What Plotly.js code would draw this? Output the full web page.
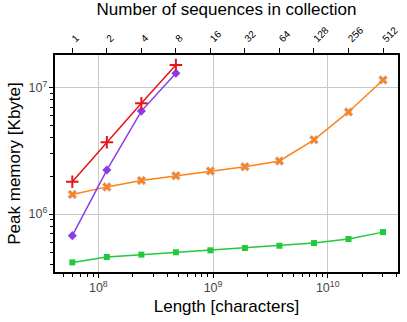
<!DOCTYPE html>
<html>
<head>
<meta charset="utf-8">
<script src="https://cdn.plot.ly/plotly-3.0.1.min.js"></script>
<style>
  body { margin: 0; background: #fff; }
  #chart { width: 407px; height: 322px; }
</style>
</head>
<body>
<div id="chart"></div>
<script>
// length of one sequence (characters); collections hold 1..512 of them
var baseLength = 5.93e7;
var seqCounts = [1, 2, 4, 8, 16, 32, 64, 128, 256, 512];

// peak memory in Kbyte
var redMem = [1.80e6, 3.70e6, 7.52e6, 1.51e7];
var purpleMem = [6.74e5, 2.23e6, 6.53e6, 1.30e7];
var orangeMem = [1.43e6, 1.64e6, 1.84e6, 2.01e6, 2.19e6, 2.37e6, 2.63e6, 3.87e6, 6.43e6, 1.15e7];
var greenMem = [4.14e5, 4.57e5, 4.77e5, 4.98e5, 5.16e5, 5.38e5, 5.61e5, 5.89e5, 6.34e5, 7.19e5];

var lengths = seqCounts.map(function (n) { return n * baseLength; });
var xRange = [7.622, 10.613];
var yRange = [5.541, 7.259];

function lineTrace(ys, color, marker) {
  return {
    type: 'scatter',
    mode: 'lines+markers',
    x: lengths.slice(0, ys.length),
    y: ys,
    line: { color: color, width: 1.5 },
    marker: marker,
    hoverinfo: 'none'
  };
}

var data = [
  lineTrace(greenMem, '#22c93d', { symbol: 'square', size: 6, color: '#22c93d' }),
  lineTrace(orangeMem, '#ff8217', { symbol: 'x', size: 8, color: '#ff8217', line: { color: '#a9c4ff', width: 0.6 } }),
  lineTrace(purpleMem, '#8a3cea', { symbol: 'diamond', size: 7, color: '#8a3cea' }),
  lineTrace(redMem, '#e8141c', { symbol: 'cross-thin', size: 9, line: { color: '#e8141c', width: 2 } }),
  // invisible trace so the top axis is drawn
  { type: 'scatter', mode: 'markers', x: lengths, y: greenMem, xaxis: 'x2',
    marker: { opacity: 0 }, hoverinfo: 'none', showlegend: false }
];

var layout = {
  width: 407,
  height: 322,
  margin: { l: 55, r: 9, t: 55, b: 50 },
  showlegend: false,
  paper_bgcolor: '#fff',
  plot_bgcolor: '#fff',
  font: { family: 'Liberation Sans, Arial, sans-serif', color: '#000' },
  xaxis: {
    type: 'log',
    range: xRange,
    dtick: 1,
    exponentformat: 'power',
    showgrid: true,
    gridcolor: '#c8c8c8',
    zeroline: false,
    showline: true,
    linecolor: '#000',
    linewidth: 1.5,
    ticks: 'outside',
    ticklen: 4,
    tickcolor: '#000',
    tickfont: { size: 10, color: '#444' },
    minor: { dtick: 'D1', ticks: 'outside', ticklen: 3, tickcolor: '#000', showgrid: false },
    title: { text: 'Length [characters]', font: { size: 17 }, standoff: 6 }
  },
  xaxis2: {
    type: 'log',
    overlaying: 'x',
    side: 'top',
    anchor: 'y',
    range: xRange,
    tickmode: 'array',
    tickvals: lengths,
    ticktext: seqCounts.map(String),
    tickangle: -45,
    showgrid: false,
    gridcolor: 'rgba(0,0,0,0)',
    zeroline: false,
    showline: true,
    linecolor: '#000',
    linewidth: 1.5,
    ticks: 'outside',
    ticklen: 5,
    tickcolor: '#000',
    tickfont: { size: 10, color: '#000' },
    title: { text: 'Number of sequences in collection', font: { size: 17 }, standoff: 4 }
  },
  yaxis: {
    type: 'log',
    range: yRange,
    dtick: 1,
    exponentformat: 'power',
    showgrid: true,
    gridcolor: '#c8c8c8',
    zeroline: false,
    showline: true,
    linecolor: '#000',
    linewidth: 1.5,
    mirror: true,
    ticks: 'outside',
    ticklen: 4,
    tickcolor: '#000',
    tickfont: { size: 10, color: '#444' },
    minor: { dtick: 'D1', ticks: 'outside', ticklen: 3, tickcolor: '#000', showgrid: false },
    title: { text: 'Peak memory [Kbyte]', font: { size: 17 }, standoff: 4 }
  }
};

Plotly.newPlot('chart', data, layout, { displayModeBar: false });
</script>
</body>
</html>
